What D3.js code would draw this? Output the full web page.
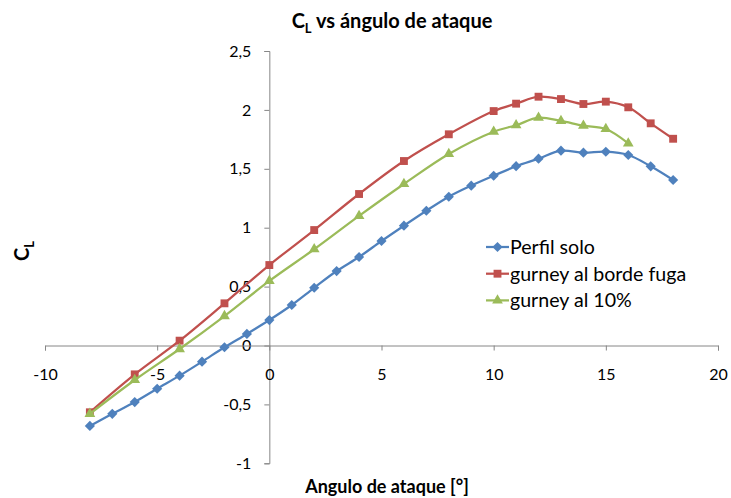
<!DOCTYPE html>
<html><head><meta charset="utf-8">
<script src="https://cdn.jsdelivr.net/npm/d3@7"></script>
<style>body{margin:0;background:#fff}svg{display:block}text{font-family:Lato,"Open Sans",sans-serif}</style>
</head><body><svg id="c" width="731" height="498"></svg>
<script>
const soloX = [-8,-7,-6,-5,-4,-3,-2,-1,0,1,2,3,4,5,6,7,8,9,10,11,12,13,14,15,16,17,18];
const soloY = [-0.683,-0.58,-0.48,-0.367,-0.256,-0.137,-0.015,0.098,0.216,0.344,0.49,0.632,0.751,0.887,1.017,1.144,1.263,1.357,1.441,1.522,1.586,1.654,1.637,1.645,1.617,1.521,1.405];
const bordeX = [-8,-6,-4,-2,0,2,4,6,8,10,11,12,13,14,15,16,17,18];
const bordeY = [-0.567,-0.245,0.041,0.358,0.683,0.98,1.286,1.566,1.793,1.99,2.053,2.112,2.092,2.05,2.07,2.022,1.886,1.755];
const diezX = [-8,-6,-4,-2,0,2,4,6,8,10,11,12,13,14,15,16];
const diezY = [-0.58,-0.293,-0.03,0.25,0.548,0.817,1.1,1.371,1.626,1.815,1.87,1.934,1.906,1.866,1.838,1.716];
const xTicks = [-10,-5,0,5,10,15,20];
const yTicks = [-1,-0.5,0,0.5,1,1.5,2,2.5];
const seriesNames = ["Perfil solo","gurney al borde fuga","gurney al 10%"];
const colors = ["#4F81BD","#C0504D","#9BBB59"];

const series = [
  {name: seriesNames[0], xs: soloX, ys: soloY, color: colors[0], sym: d3.symbolDiamond2, size: 66},
  {name: seriesNames[1], xs: bordeX, ys: bordeY, color: colors[1], sym: d3.symbolSquare, size: 62},
  {name: seriesNames[2], xs: diezX, ys: diezY, color: colors[2], sym: d3.symbolTriangle, size: 50}
];

const svg = d3.select("#c");
const x = d3.scaleLinear().domain([-10,20]).range([45,718]);
const y = d3.scaleLinear().domain([-1,2.5]).range([463.3,51]);
const fmt = v => String(v).replace(".", ",");
const axisColor = "#868686";

// y axis
const ya = svg.append("g").attr("transform",`translate(${x(0)},0)`)
  .call(d3.axisLeft(y).tickValues(yTicks).tickSize(5).tickPadding(13).tickFormat(fmt));
ya.select(".domain").attr("stroke",axisColor);
ya.selectAll(".tick line").attr("stroke",axisColor);
ya.selectAll(".tick text").attr("font-size",16).attr("fill","#000").attr("font-family","Lato");

// x axis
const xa = svg.append("g").attr("transform",`translate(0,${y(0)})`)
  .call(d3.axisBottom(x).tickValues(xTicks).tickSize(5).tickPadding(18).tickFormat(fmt));
xa.select(".domain").attr("stroke",axisColor);
xa.selectAll(".tick line").attr("stroke",axisColor);
xa.selectAll(".tick text").attr("font-size",16).attr("fill","#000").attr("font-family","Lato");

const line = d3.line().x(d=>x(d[0])).y(d=>y(d[1])).curve(d3.curveCatmullRom.alpha(0.5));
series.forEach(s => {
  const pts = s.xs.map((v,i)=>[v,s.ys[i]]);
  svg.append("path").datum(pts).attr("d",line).attr("fill","none")
    .attr("stroke",s.color).attr("stroke-width",2.25);
  svg.append("g").selectAll("path").data(pts).join("path")
    .attr("transform",d=>`translate(${x(d[0])},${y(d[1])})`)
    .attr("d",d3.symbol().type(s.sym).size(s.size)).attr("fill",s.color);
});

// legend
const leg = svg.append("g");
series.forEach((s,i)=>{
  const ly = 247 + i*26.7;
  leg.append("line").attr("x1",486).attr("x2",509).attr("y1",ly).attr("y2",ly)
    .attr("stroke",s.color).attr("stroke-width",2.25);
  leg.append("path").attr("transform",`translate(497.5,${ly})`)
    .attr("d",d3.symbol().type(s.sym).size(s.size)).attr("fill",s.color);
  leg.append("text").attr("x",510).attr("y",ly).attr("dy","0.35em")
    .attr("font-size",19.6).text(s.name);
});

// title
const t = svg.append("text").attr("x",392).attr("y",28).attr("text-anchor","middle")
  .attr("font-size",20).attr("font-weight","bold");
t.append("tspan").text("C");
t.append("tspan").attr("font-size",13).attr("dy",5).text("L");
t.append("tspan").attr("dy",-5).text(" vs ángulo de ataque");

// x title
svg.append("text").attr("x",387).attr("y",493).attr("text-anchor","middle")
  .attr("font-size",18).attr("font-weight","bold").text("Angulo de ataque [°]");

// y title
const yt = svg.append("text").attr("transform","translate(29,251) rotate(-90)")
  .attr("text-anchor","middle").attr("font-size",20).attr("font-weight","bold");
yt.append("tspan").text("C");
yt.append("tspan").attr("font-size",13).attr("dy",5).text("L");
</script></body></html>
